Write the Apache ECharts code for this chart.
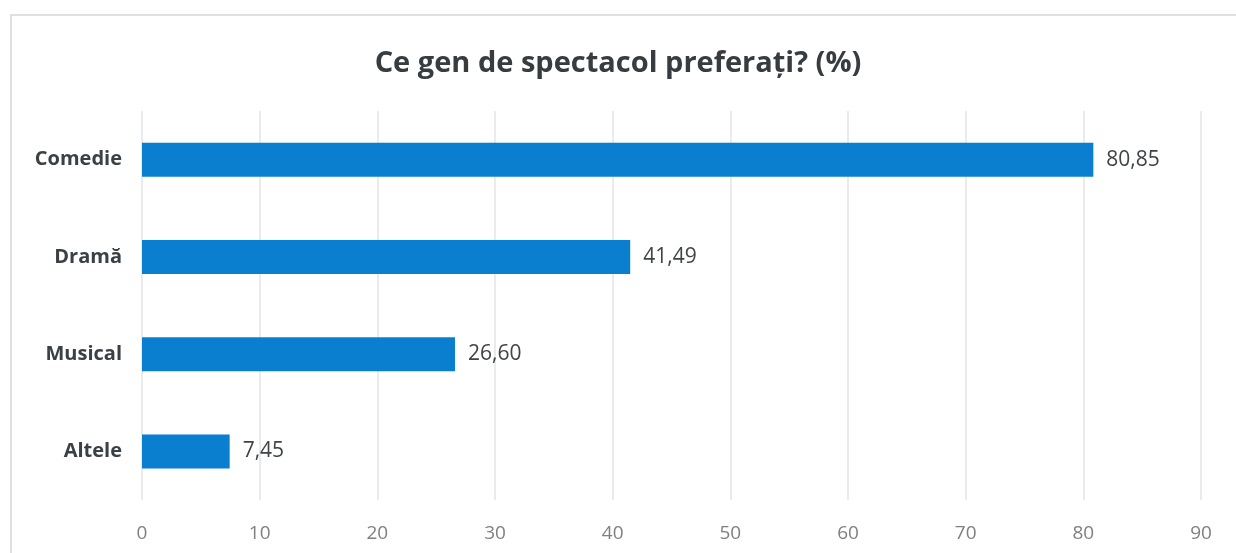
<!DOCTYPE html>
<html>
<head>
<meta charset="utf-8">
<script src="https://cdn.jsdelivr.net/npm/echarts@6/dist/echarts.min.js"></script>
<style>
  html, body { margin: 0; padding: 0; background: #fff; }
  #main { width: 1236px; height: 553px; }
</style>
</head>
<body>
<div id="main"></div>
<script>
var categories = ['Comedie', 'Dramă', 'Musical', 'Altele'];
var values = [80.85, 41.49, 26.60, 7.45];
var xTicks = [0, 10, 20, 30, 40, 50, 60, 70, 80, 90];

var myChart = echarts.init(document.getElementById('main'));

myChart.setOption({
    backgroundColor: '#fff',
    textStyle: { fontFamily: 'Open Sans' },
    title: {
        text: 'Ce gen de spectacol preferați? (%)',
        left: 'center',
        top: 44,
        textStyle: { fontSize: 29, fontWeight: 'bold', color: '#363c40', fontFamily: 'Open Sans' }
    },
    graphic: [{
        type: 'rect',
        shape: { x: 11, y: 15, width: 1240, height: 560 },
        style: { fill: 'none', stroke: '#d6d6d6', lineWidth: 1.5 },
        silent: true
    }],
    grid: { left: 142, right: 35, top: 111, bottom: 53 },
    xAxis: {
        type: 'value',
        min: xTicks[0],
        max: xTicks[xTicks.length - 1],
        interval: 10,
        axisLine: { show: false },
        axisTick: { show: false },
        splitLine: { lineStyle: { color: '#e4e4e4', width: 1.5 } },
        axisLabel: { margin: 24, fontSize: 19, color: '#808080' }
    },
    yAxis: {
        type: 'category',
        inverse: true,
        data: categories,
        axisLine: { show: false },
        axisTick: { show: false },
        axisLabel: { margin: 20, fontSize: 20, fontWeight: 'bold', color: '#3a4045' }
    },
    series: [{
        type: 'bar',
        data: values,
        barWidth: 34,
        itemStyle: { color: '#0a7fcf' },
        label: {
            show: true,
            position: 'right',
            distance: 13,
            fontSize: 21,
            color: '#3f4448',
            formatter: function (p) { return p.value.toFixed(2).replace('.', ','); }
        }
    }]
});
</script>
</body>
</html>
